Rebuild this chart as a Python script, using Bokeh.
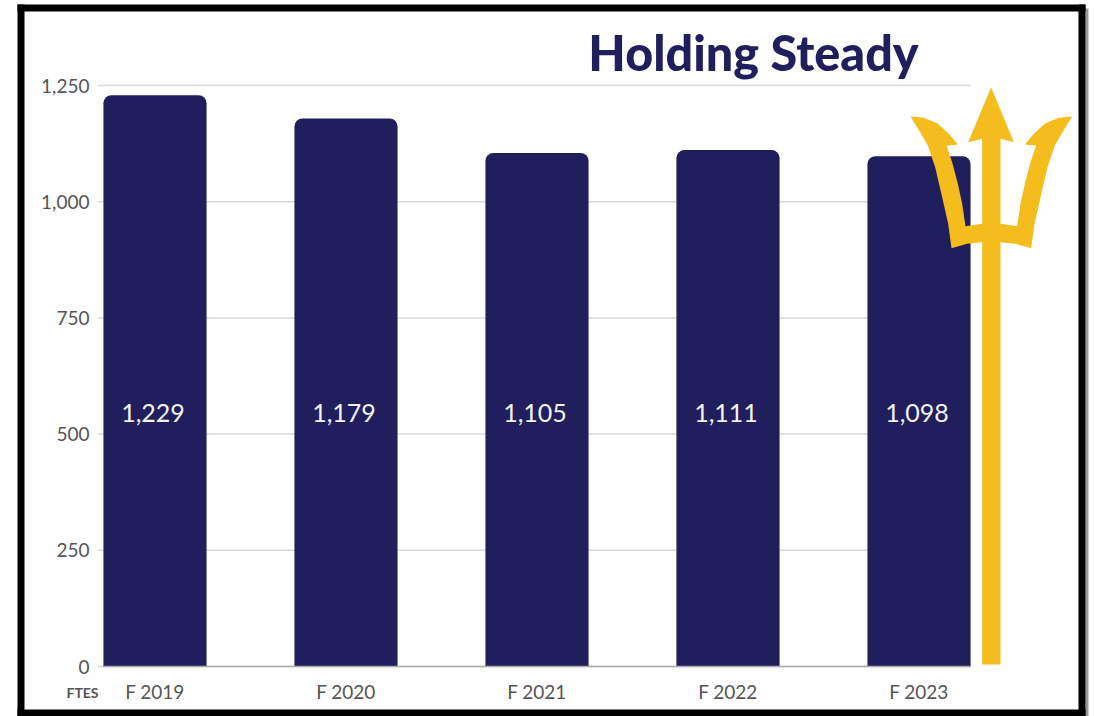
from bokeh.embed import file_html
from bokeh.resources import INLINE
from bokeh.plotting import figure
from bokeh.models import (BoxAnnotation, ColumnDataSource, FixedTicker, Label, LabelSet,
                          NumeralTickFormatter, PolyAnnotation, Range1d)
from bokeh.core.properties import value

categories = ["F 2019", "F 2020", "F 2021", "F 2022", "F 2023"]
ftes = [1229, 1179, 1105, 1111, 1098]
value_labels = ["1,229", "1,179", "1,105", "1,111", "1,098"]
y_ticks = [0, 250, 500, 750, 1000, 1250]

W, H = 1094, 716
AXIS_X, BASE_Y = 97, 666
PX_PER_UNIT = 581 / 1250
STEP = 191
NAVY = "#201E5C"
GOLD = "#F4BC1C"
INK = "#555555"
positions = list(range(len(categories)))
left_edge = (AXIS_X - 154.5) / STEP


def sy(py):
    return H - py


p = figure(width=W, height=H, output_backend="svg", toolbar_location=None,
           x_range=Range1d((0 - 154.5) / STEP, (W - 154.5) / STEP),
           y_range=Range1d((BASE_Y - H) / PX_PER_UNIT, BASE_Y / PX_PER_UNIT),
           min_border=0, outline_line_color=None,
           background_fill_color="white", border_fill_color="white")
p.styles = {"position": "absolute", "left": "0px", "top": "0px"}

p.xgrid.visible = False
p.ygrid.visible = False
p.segment(x0=left_edge, x1=4.27, y0=y_ticks, y1=y_ticks, line_color="#D9D9D9", line_width=1.5)

src = ColumnDataSource(dict(x=positions, top=ftes, label=value_labels,
                            y=[545] * len(ftes)))
p.vbar(x="x", top="top", bottom=0, width=0.54, source=src, fill_color=NAVY, line_color=None,
       border_radius=(8, 8, 0, 0))
p.add_layout(LabelSet(x="x", y="y", text="label", source=src, text_color="#F2F2F8",
                      text_font=value("Lato"), text_font_size="25px", text_align="center",
                      text_baseline="middle", x_offset=-2))

ax = p.xaxis[0]
ax.fixed_location = 0
ax.ticker = FixedTicker(ticks=positions)
ax.major_label_overrides = dict(zip(positions, categories))
ax.major_tick_line_color = None
ax.minor_tick_line_color = None
ax.axis_line_color = "#AAAAAA"
ax.axis_line_width = 1.5
ax.bounds = (-0.27, 4.27)
ax.major_label_standoff = 7
ax.major_label_text_font = "Lato"
ax.major_label_text_font_size = "19px"
ax.major_label_text_color = INK

ay = p.yaxis[0]
ay.fixed_location = left_edge
ay.ticker = FixedTicker(ticks=y_ticks)
ay.formatter = NumeralTickFormatter(format="0,0")
ay.major_tick_line_color = None
ay.minor_tick_line_color = None
ay.axis_line_color = None
ay.major_label_standoff = 2
ay.major_label_text_font = "Lato"
ay.major_label_text_font_size = "19px"
ay.major_label_text_color = INK

p.add_layout(Label(x=82, y=sy(692), x_units="screen", y_units="screen", text="FTES",
                   text_font="Lato", text_font_style="bold", text_font_size="14px", text_color=INK,
                   text_align="center", text_baseline="middle"))
p.add_layout(Label(x=753, y=sy(51), x_units="screen", y_units="screen", text="Holding Steady",
                   text_font="Lato Black", text_font_size="48.5px",
                   text_color=NAVY, text_align="center", text_baseline="middle"))

# trident emblem, traced in page pixels (half outline, mirrored about the shaft)
half = [(305, 205), (305, 460), (255, 467), (245, 400), (232, 340), (215, 275), (198, 225), (232, 222),
        (205, 190), (170, 158), (130, 142), (90, 138), (116, 180), (142, 225), (164, 290), (185, 380),
        (203, 460), (213, 533), (260, 520), (305, 515), (305, 1782)]
half_top = [(332, 50), (400, 215), (360, 205)]
right = [(665 - a, b) for a, b in half[1:]]
left = [(263, 215)]
z = half_top + right + list(reversed(half)) + left
p.add_layout(PolyAnnotation(xs=[880 + a / 3 for a, _ in z], ys=[sy(70 + b / 3) for _, b in z],
                            xs_units="screen", ys_units="screen",
                            fill_color=GOLD, fill_alpha=1, line_color=None))

# picture frame
for l, r, t, b, c in [(1085, 1088, 8, 716, "#999999"), (17, 1085, 4, 11, "black"),
                      (17, 1085, 709, 716, "black"), (17, 24, 4, 716, "black"),
                      (1078, 1085, 4, 716, "black")]:
    p.add_layout(BoxAnnotation(left=l, right=r, top=sy(t), bottom=sy(b), left_units="screen",
                               right_units="screen", top_units="screen", bottom_units="screen",
                               fill_color=c, fill_alpha=1, line_color=None))

open("out.html", "w").write(file_html(p, INLINE))
